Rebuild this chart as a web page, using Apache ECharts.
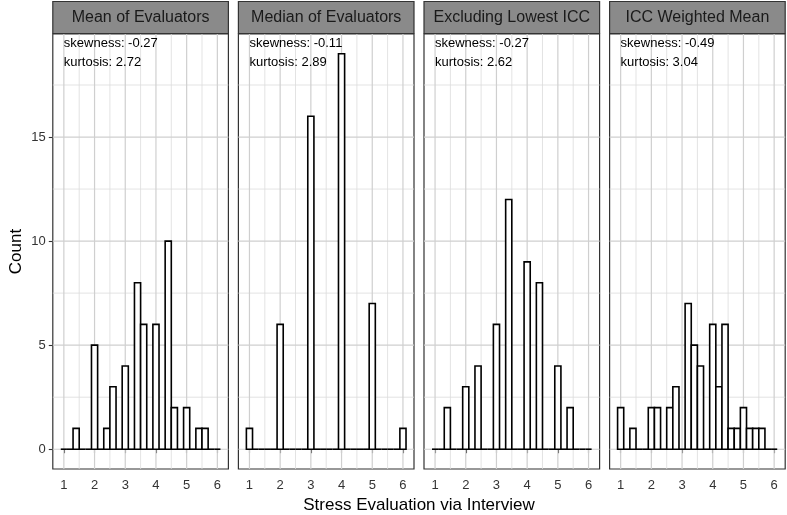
<!DOCTYPE html>
<html><head><meta charset="utf-8">
<script src="https://cdn.jsdelivr.net/npm/echarts@6/dist/echarts.min.js"></script>
<style>html,body{margin:0;padding:0;background:#fff}#c{width:787px;height:515px}</style>
</head><body><div id="c"></div>
<script>
// ---- data ----
const binCenters = [1.0,1.2,1.4,1.6,1.8,2.0,2.2,2.4,2.6,2.8,3.0,3.2,3.4,3.6,3.8,4.0,4.2,4.4,4.6,4.8,5.0,5.2,5.4,5.6,5.8,6.0];
const binWidth = 0.2;
const panelTitles = ["Mean of Evaluators","Median of Evaluators","Excluding Lowest ICC","ICC Weighted Mean"];
const meanCounts   = [0,0,1,0,0,5,0,1,3,0,4,0,8,6,0,6,0,10,2,0,2,0,1,1,0,0];
const medianCounts = [1,0,0,0,0,6,0,0,0,0,16,0,0,0,0,19,0,0,0,0,7,0,0,0,0,1];
const exclCounts   = [0,0,2,0,0,3,0,4,0,0,6,0,12,0,0,9,0,8,0,0,4,0,2,0,0,0];
const iccCounts    = [2,0,1,0,0,2,2,0,2,3,0,7,5,4,0,6,3,6,1,1,2,1,1,1,0,0];
const skewness = ["-0.27","-0.11","-0.27","-0.49"];
const kurtosis = ["2.72","2.89","2.62","3.04"];
const xTicks = [1,2,3,4,5,6];
const xMinorTicks = [1.5,2.5,3.5,4.5,5.5];
const yTicks = [0,5,10,15];
const yMinorTicks = [2.5,7.5,12.5,17.5];
const xTitle = "Stress Evaluation via Interview";
const yTitle = "Count";

// ---- layout ----
const counts = [meanCounts, medianCounts, exclCounts, iccCounts];
const FONT = '"Liberation Sans", Arial, Helvetica, sans-serif';
const panelLeft0 = 52.8, panelStep = 185.6, panelW = 175.6, panelTop = 34, panelH = 435;
const xLo = binCenters[0] - binWidth/2, xHi = binCenters[binCenters.length-1] + binWidth/2;
const xPad = 0.05*(xHi-xLo);
const yMaxData = Math.max(...counts.flat());
const yPad = 0.05*yMaxData;

const grids=[], xAxes=[], yAxes=[], series=[], graphics=[];
for (let i=0;i<4;i++){
  const left = panelLeft0 + panelStep*i;
  grids.push({left:left, top:panelTop, width:panelW, height:panelH, show:true,
    borderColor:'#333', borderWidth:1.2, backgroundColor:'#fff', containLabel:false});
  xAxes.push({gridIndex:i, type:'value', min:xLo-xPad, max:xHi+xPad,
    splitLine:{show:false}, axisLine:{show:false},
    axisTick:{show:true, customValues:xTicks, length:4, lineStyle:{color:'#333', width:1.1}},
    axisLabel:{customValues:xTicks, margin:10, fontSize:13, color:'#333', fontFamily:FONT}});
  yAxes.push({gridIndex:i, type:'value', min:-yPad, max:yMaxData+yPad,
    splitLine:{show:false}, axisLine:{show:false},
    axisTick:{show:i===0, customValues:yTicks, length:4, lineStyle:{color:'#333', width:1.1}},
    axisLabel:{show:i===0, customValues:yTicks, margin:7, fontSize:13, color:'#333', fontFamily:FONT}});
  const vLine = (w,col)=>function(params, api){
    const cs = params.coordSys; const x = api.coord([api.value(0), 0])[0];
    return {type:'line', shape:{x1:x, y1:cs.y, x2:x, y2:cs.y+cs.height}, style:{stroke:col, lineWidth:w}};
  };
  const hLine = (w,col)=>function(params, api){
    const cs = params.coordSys; const y = api.coord([1, api.value(1)])[1];
    return {type:'line', shape:{x1:cs.x, y1:y, x2:cs.x+cs.width, y2:y}, style:{stroke:col, lineWidth:w}};
  };
  series.push({type:'custom', xAxisIndex:i, yAxisIndex:i, z:1, silent:true, renderItem:vLine(0.8,'#dcdcdc'), data:xMinorTicks.map(v=>[v,0])});
  series.push({type:'custom', xAxisIndex:i, yAxisIndex:i, z:1, silent:true, renderItem:hLine(0.8,'#dcdcdc'), data:yMinorTicks.map(v=>[1,v])});
  series.push({type:'custom', xAxisIndex:i, yAxisIndex:i, z:1, silent:true, renderItem:vLine(1.2,'#cfcfcf'), data:xTicks.map(v=>[v,0])});
  series.push({type:'custom', xAxisIndex:i, yAxisIndex:i, z:1, silent:true, renderItem:hLine(1.2,'#cfcfcf'), data:yTicks.map(v=>[1,v])});
  series.push({type:'custom', xAxisIndex:i, yAxisIndex:i, z:3, silent:true,
    data: binCenters.map((c,k)=>[c, counts[i][k]]),
    renderItem:function(params, api){
      const c = api.value(0), n = api.value(1);
      const p0 = api.coord([c-binWidth/2, 0]);
      const p1 = api.coord([c+binWidth/2, n]);
      if (n === 0) {
        return {type:'line', shape:{x1:p0[0], y1:p0[1], x2:p1[0], y2:p0[1]}, style:{stroke:'#000', lineWidth:1.6}};
      }
      return {type:'rect', shape:{x:p0[0], y:p1[1], width:p1[0]-p0[0], height:p0[1]-p1[1]},
        style:{fill:'#fff', stroke:'#000', lineWidth:1.6}};
    }});
  graphics.push({type:'rect', shape:{x:left, y:1.5, width:panelW, height:32},
    style:{fill:'#8a8a8a', stroke:'#333', lineWidth:1.2}, z:10});
  graphics.push({type:'text', x:left+panelW/2, y:17.5, z:11,
    style:{text:panelTitles[i], fontSize:16, fontFamily:FONT, fill:'#1a1a1a', align:'center', verticalAlign:'middle'}});
  graphics.push({type:'text', x:left+11, y:43.5, z:11,
    style:{text:'skewness: '+skewness[i], fontSize:13, fontFamily:FONT, fill:'#000', align:'left', verticalAlign:'middle'}});
  graphics.push({type:'text', x:left+11, y:62.5, z:11,
    style:{text:'kurtosis: '+kurtosis[i], fontSize:13, fontFamily:FONT, fill:'#000', align:'left', verticalAlign:'middle'}});
}
graphics.push({type:'text', x:16, y:panelTop+panelH/2, rotation:Math.PI/2, z:11,
  style:{text:yTitle, fontSize:17, fontFamily:FONT, fill:'#000', align:'center', verticalAlign:'middle'}});
graphics.push({type:'text', x:(panelLeft0 + panelLeft0+panelStep*3+panelW)/2, y:505.5, z:11,
  style:{text:xTitle, fontSize:17, fontFamily:FONT, fill:'#000', align:'center', verticalAlign:'middle'}});

const chart = echarts.init(document.getElementById('c'), null, {renderer:'canvas'});
chart.setOption({animation:false, backgroundColor:'#fff', grid:grids, xAxis:xAxes, yAxis:yAxes, series:series, graphic:graphics});
</script></body></html>
